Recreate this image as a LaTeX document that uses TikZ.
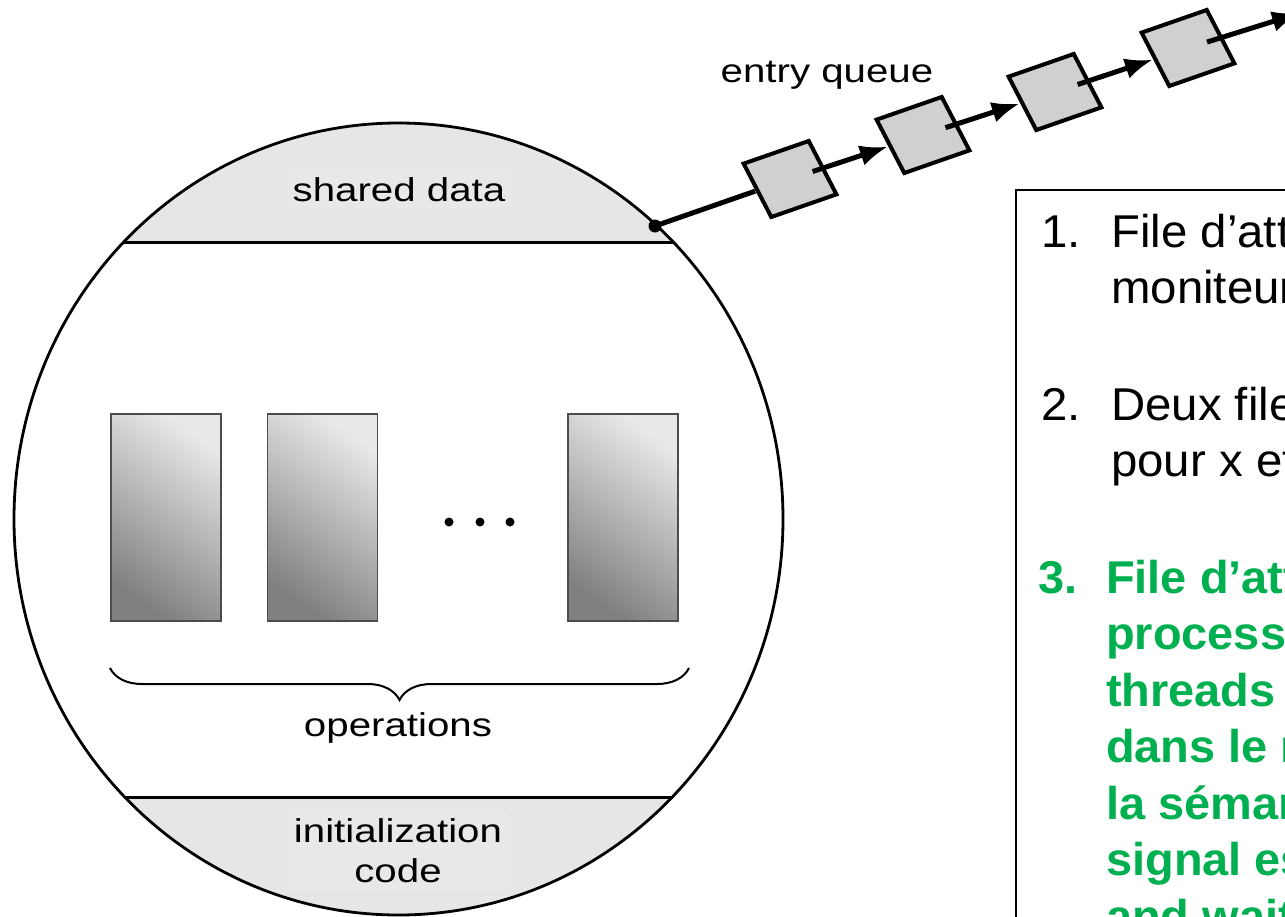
\documentclass[tikz,border=0pt]{standalone}
\usepackage{fontspec}
\newfontfamily\figfont[FakeStretch=1.22]{Liberation Sans}
\newfontfamily\notefont[FakeStretch=1.03]{Liberation Sans}
\newfontfamily\notebold[FakeStretch=1.02]{Liberation Sans Bold}
\usepackage{tikz}
\usetikzlibrary{positioning,calc,arrows.meta,decorations.pathreplacing}
\tikzset{>=stealth}
\definecolor{bandgray}{HTML}{E6E6E6}
\definecolor{labelgray}{HTML}{E9E7E9}
\definecolor{qgray}{HTML}{D0D0D0}
\definecolor{notegreen}{HTML}{00B050}
\tikzset{
  qbox/.style={draw,line width=4pt,fill=qgray,minimum size=58pt,inner sep=0pt,xscale=1.22,rotate=23},
  qline/.style={line width=5pt,-{Latex[length=28pt,width=21pt]}},
  opbox/.style={draw=black!70,line width=1.5pt,minimum width=110pt,minimum height=207pt,inner sep=0pt,
    top color=black!9,bottom color=black!50,shading angle=-35},
  lab/.style={font=\figfont\fontsize{33}{40}\selectfont,fill=labelgray,inner sep=7pt,align=center},
  note/.style={font=\notefont\fontsize{46}{56.5}\selectfont,anchor=base west,inner sep=0pt},
  notegr/.style={note,text=notegreen,font=\notebold\fontsize{46}{56.5}\selectfont},
}

\begin{document}
\begin{tikzpicture}[x=1pt,y=-1pt]
\path[use as bounding box,fill=white] (0,0) rectangle (1285,916);
\clip (0,0) rectangle (1285,916);
% monitor
\coordinate (mc) at (398.5,519);
\begin{scope}
\clip (mc) ellipse [x radius=384.5pt, y radius=396pt];
\fill[bandgray] (0,0) rectangle (800,242);
\fill[bandgray] (0,797) rectangle (800,930);
\draw[line width=3pt] (0,242) -- (800,242);
\draw[line width=3pt] (0,797) -- (800,797);
\end{scope}
\draw[line width=2.8pt] (mc) ellipse [x radius=384.5pt, y radius=396pt];
\node[lab] (shared) at (399,190) {shared data};
\node[lab] (init) at (398,851) {initialization\\code};
% operations
\node[opbox] (op1) at (166,517.5) {};
\node[opbox,right=45pt of op1] (op2) {};
\node[opbox,right=189pt of op2] (op3) {};
\foreach \x in {449,480,510}
  \fill (\x,522) circle[radius=4.5pt];
\draw[decorate,decoration={brace,mirror,amplitude=32pt},line width=2pt] (110,668) -- (689,668);
\node[lab,fill=none] (ops) at (398,728) {operations};
% entry queue
\node[lab,fill=none] (entry) at (827,75) {entry queue};
\coordinate (qdot) at (655,226);
\node[qbox] (q1) at (790,179) {};
\node[qbox] (q2) at (923,135) {};
\node[qbox] (q3) at (1055,92) {};
\node[qbox] (q4) at (1188,48) {};
\coordinate (qend) at (1300,13);
\draw[line width=5pt] (qdot) -- (q1);
\fill (qdot) circle[radius=6.5pt];
\foreach \a/\b in {q1/q2,q2/q3,q3/q4,q4/qend}
  \draw[qline] ($(\a)!0.17!(\b)$) -- (\b);
% notes
\draw[line width=2.5pt] (1016,190) rectangle (1300,930);
\node[note] (n1) at (1041,247) {\begin{tabular}[t]{@{}p{70pt}@{}l@{}}1.&File d’attente pour le\\&moniteur\end{tabular}};
\node[note] (n2) at (1041,420) {\begin{tabular}[t]{@{}p{70pt}@{}l@{}}2.&Deux files d’attente\\&pour x et y\end{tabular}};
\node[notegr] (n3) at (1038,593) {\begin{tabular}[t]{@{}p{68pt}@{}l@{}}3.&File d’attente des\\&processus ou\\&threads bloqués\\&dans le moniteur si\\&la sémantique du\\&signal est signal\\&and wait\end{tabular}};
\end{tikzpicture}
\end{document}
